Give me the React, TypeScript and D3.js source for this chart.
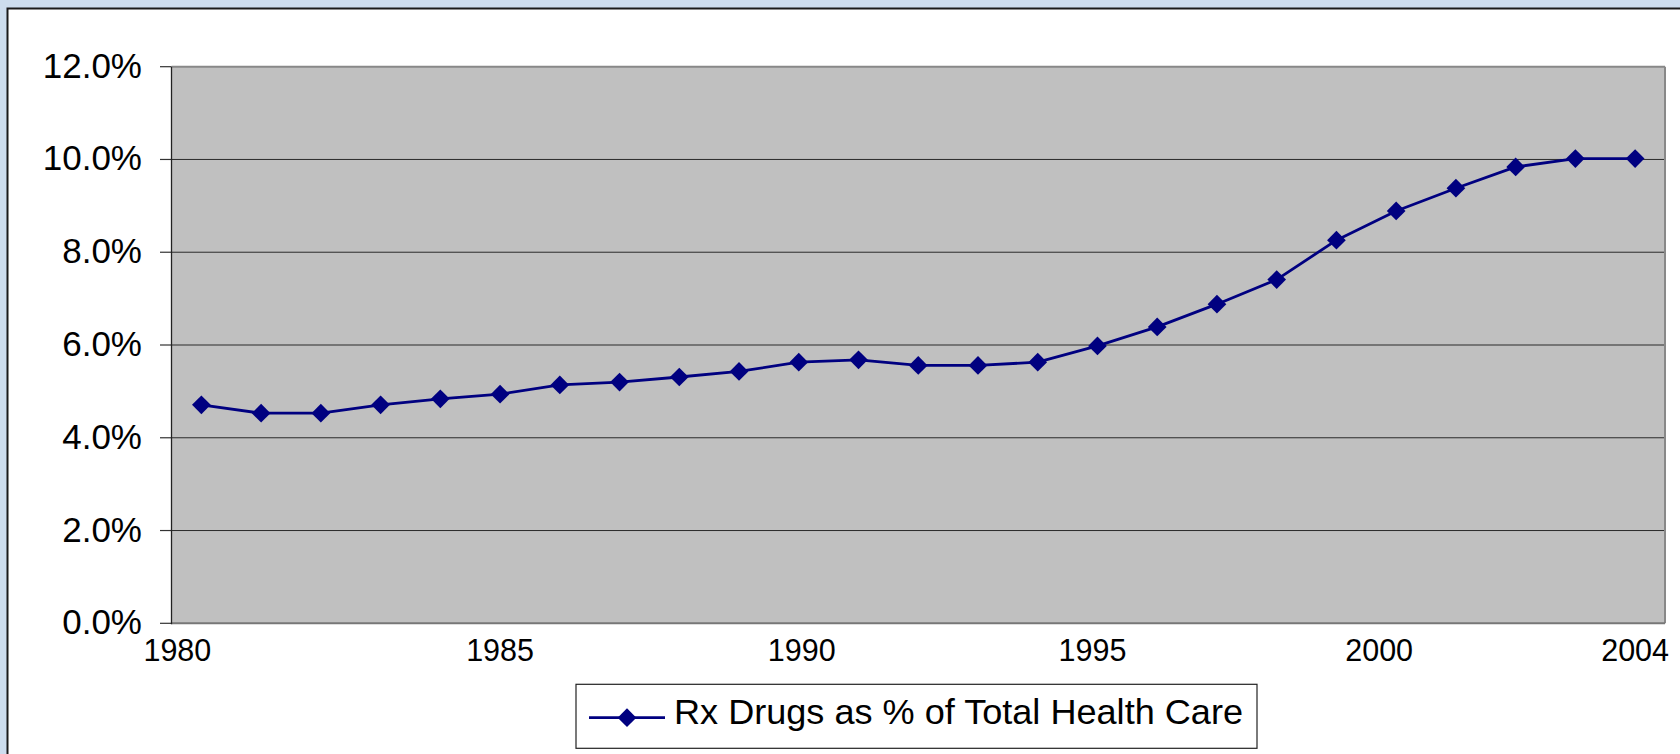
import React from "react";
import * as d3 from "d3";

const years: number[] = [
  1980, 1981, 1982, 1983, 1984, 1985, 1986, 1987, 1988, 1989, 1990, 1991, 1992,
  1993, 1994, 1995, 1996, 1997, 1998, 1999, 2000, 2001, 2002, 2003, 2004,
];
const rxShare: number[] = [
  0.0471, 0.0453, 0.0453, 0.0471, 0.0484, 0.0494, 0.0514, 0.052, 0.0531, 0.0543,
  0.0563, 0.0568, 0.0556, 0.0556, 0.0563, 0.0598, 0.0639, 0.0688, 0.0741, 0.0826,
  0.0889, 0.0938, 0.0984, 0.1002, 0.1002,
];
const yTicks: number[] = [0, 0.02, 0.04, 0.06, 0.08, 0.1, 0.12];
const xLabelYears: number[] = [1980, 1985, 1990, 1995, 2000, 2004];
const xLabelNudge: number[] = [-24, 0, 3, -5, -17, 0];
const seriesName = "Rx Drugs as % of Total Health Care";

const W = 1680;
const H = 754;
const plot = { left: 171.5, right: 1665, top: 66.7, bottom: 623.3 };
const FONT = "'Liberation Sans', Arial, Helvetica, sans-serif";
const NAVY = "#000080";

export default function App() {
  const x = d3
    .scaleBand<number>()
    .domain(years)
    .range([plot.left, plot.right])
    .paddingInner(0)
    .paddingOuter(0);
  const cx = (yr: number) => (x(yr) as number) + x.bandwidth() / 2;
  const y = d3.scaleLinear().domain([0, 0.12]).range([plot.bottom, plot.top]);
  const fmt = d3.format(".1%");

  const line = d3
    .line<number>()
    .x((_, i) => cx(years[i]))
    .y((d) => y(d));

  const diamond = d3.symbol().type(d3.symbolSquare).size(175)() as string;

  const legend = { left: 576, right: 1257, top: 684.3, bottom: 748.3 };
  const legendMidY = 717.7;

  return (
    <svg
      width={W}
      height={H}
      style={{ position: "absolute", left: 0, top: 0, display: "block" }}
    >
      <rect x={0} y={0} width={W} height={H} fill="#CDDDEE" />
      <rect
        x={7.5}
        y={8.5}
        width={W + 20}
        height={H + 20}
        fill="#ffffff"
        stroke="#1a1a1a"
        strokeWidth={2}
      />
      {/* plot area */}
      <rect
        x={plot.left}
        y={plot.top}
        width={plot.right - plot.left}
        height={plot.bottom - plot.top}
        fill="#C0C0C0"
      />
      {yTicks.map((t) => (
        <g key={t}>
          {t > 0 && t < 0.12 && (
            <line
              x1={plot.left}
              x2={plot.right}
              y1={y(t)}
              y2={y(t)}
              stroke="#2a2a2a"
              strokeWidth={1}
            />
          )}
          <line
            x1={160}
            x2={plot.left}
            y1={y(t)}
            y2={y(t)}
            stroke="#333"
            strokeWidth={1.2}
          />
          <text
            x={142}
            y={y(t) + 11}
            textAnchor="end"
            fontFamily={FONT}
            fontSize={35}
            fill="#000"
          >
            {fmt(t)}
          </text>
        </g>
      ))}
      {/* borders */}
      <line
        x1={plot.left}
        x2={plot.right}
        y1={plot.top}
        y2={plot.top}
        stroke="#888"
        strokeWidth={2}
      />
      <line
        x1={plot.right}
        x2={plot.right}
        y1={plot.top}
        y2={plot.bottom}
        stroke="#888"
        strokeWidth={2}
      />
      <line
        x1={plot.left}
        x2={plot.right}
        y1={plot.bottom}
        y2={plot.bottom}
        stroke="#777"
        strokeWidth={2}
      />
      <line
        x1={plot.left}
        x2={plot.left}
        y1={plot.top}
        y2={plot.bottom + 1}
        stroke="#222"
        strokeWidth={1.3}
      />
      {/* x labels */}
      {xLabelYears.map((yr, i) => (
        <text
          key={yr}
          x={cx(yr) + xLabelNudge[i]}
          y={plot.bottom + 37.4}
          textAnchor="middle"
          fontFamily={FONT}
          fontSize={30.5}
          fill="#000"
        >
          {yr}
        </text>
      ))}
      {/* series */}
      <path
        d={line(rxShare) || ""}
        fill="none"
        stroke={NAVY}
        strokeWidth={2.8}
        strokeLinejoin="round"
      />
      {rxShare.map((v, i) => (
        <path
          key={years[i]}
          d={diamond}
          transform={`translate(${cx(years[i])},${y(v)}) rotate(45)`}
          fill={NAVY}
        />
      ))}
      {/* legend */}
      <rect
        x={legend.left}
        y={legend.top}
        width={legend.right - legend.left}
        height={legend.bottom - legend.top}
        fill="#fff"
        stroke="#222"
        strokeWidth={1.2}
      />
      <line
        x1={589}
        x2={665}
        y1={legendMidY}
        y2={legendMidY}
        stroke={NAVY}
        strokeWidth={2.8}
      />
      <path
        d={diamond}
        transform={`translate(627,${legendMidY}) rotate(45)`}
        fill={NAVY}
      />
      <text
        x={674}
        y={724.3}
        fontFamily={FONT}
        fontSize={35}
        textLength={569}
        lengthAdjust="spacingAndGlyphs"
        fill="#000"
      >
        {seriesName}
      </text>
    </svg>
  );
}
